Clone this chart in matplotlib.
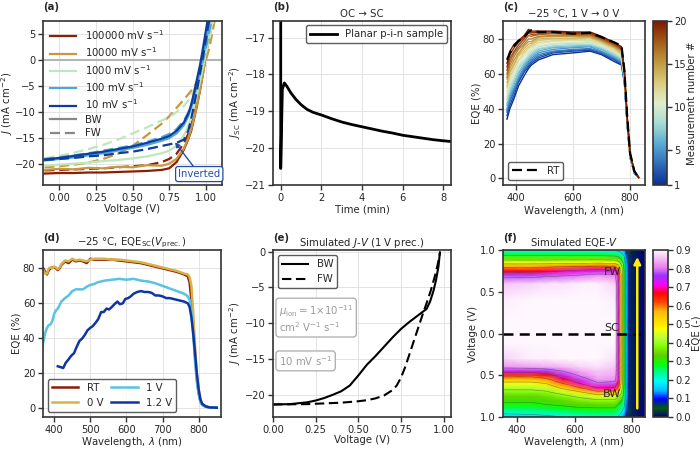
import numpy as np
import matplotlib
matplotlib.use('Agg')
import matplotlib.pyplot as plt
from matplotlib.colors import LinearSegmentedColormap, Normalize
from matplotlib.cm import ScalarMappable

plt.rcParams.update({
    'font.family': ['DejaVu Sans'],
    'font.size': 7.3,
    'axes.linewidth': 1.2,
    'axes.edgecolor': '#333333',
    'axes.labelcolor': '#262626',
    'axes.labelsize': 7.3,
    'text.color': '#262626',
    'xtick.color': '#333333', 'ytick.color': '#333333',
    'xtick.labelcolor': '#262626', 'ytick.labelcolor': '#262626',
    'xtick.labelsize': 7.1, 'ytick.labelsize': 7.1,
    'xtick.major.size': 3.5, 'ytick.major.size': 3.5,
    'xtick.major.width': 1.0, 'ytick.major.width': 1.0,
    'xtick.major.pad': 2.0, 'ytick.major.pad': 2.0,
    'axes.labelpad': 1.0,
    'legend.fontsize': 7.3,
    'axes.titlesize': 7.3,
    'axes.titlepad': 3.0,
})

# ---------------- data: panel (a) ----------------
V_a = [-0.1, 0.0, 0.1, 0.2, 0.3, 0.4, 0.5, 0.6, 0.7, 0.75, 0.8, 0.85, 0.88, 0.9,
       0.92, 0.94, 0.96, 0.98, 1.0, 1.02, 1.04, 1.06, 1.08, 1.1]
scan_labels = ['100000 mV s$^{-1}$', '10000 mV s$^{-1}$', '1000 mV s$^{-1}$',
               '100 mV s$^{-1}$', '10 mV s$^{-1}$']
scan_colors = ['#8c1d06', '#c9983c', '#bde7bd', '#4ea7d8', '#0d3c9b']
J_bw_100000 = [-21.8, -21.7, -21.7, -21.6, -21.6, -21.5, -21.4, -21.3, -21.1, -20.8, -19.6, -17.2,
               -15.2, -13.6, -11.2, -8.7, -5.8, -2.6, 1.0, 5.0, 9.0, 13, 17, 21]
J_fw_100000 = [-21.2, -21.1, -21.0, -20.9, -20.8, -20.6, -20.4, -20.2, -19.6, -19.0, -18.0, -16.0,
               -14.2, -12.6, -10.5, -8.0, -5.3, -2.3, 1.0, 4.8, 8.8, 13, 17, 21]
J_bw_10000 = [-21.1, -20.9, -21.0, -20.7, -20.8, -20.5, -20.6, -20.2, -20.3, -19.9, -19.0, -17.0,
              -15.0, -13.3, -11.0, -8.5, -5.7, -2.8, 0.6, 4.2, 8.0, 12, 16, 20]
J_fw_10000 = [-20.6, -20.4, -20.1, -19.7, -19.0, -18.0, -16.5, -14.4, -12.2, -10.8, -9.2, -7.6,
              -6.6, -5.9, -5.1, -4.2, -3.1, -1.8, -0.2, 2.0, 4.6, 7.6, 11, 14]
J_bw_1000 = [-20.3, -20.1, -19.9, -19.7, -19.4, -19.2, -18.9, -18.5, -17.9, -17.4, -16.5, -14.5,
             -12.6, -11.0, -8.9, -6.6, -4.1, -1.4, 1.6, 4.8, 8.2, 12, 15, 19]
J_fw_1000 = [-18.9, -18.4, -17.8, -17.1, -16.3, -15.3, -14.1, -12.9, -11.6, -11.0, -10.0, -8.8,
             -7.8, -6.9, -5.7, -4.3, -2.6, -0.7, 1.4, 3.6, 6.0, 8.6, 11, 14]
J_bw_100 = [-19.3, -19.0, -18.7, -18.3, -17.9, -17.4, -16.9, -16.3, -15.5, -15.0, -14.1, -12.5,
            -10.8, -9.2, -7.1, -4.7, -2.2, 0.4, 3.3, 6.4, 9.6, 13, 16, 20]
J_fw_100 = [-19.0, -18.7, -18.3, -17.9, -17.4, -16.9, -16.4, -15.7, -14.8, -14.2, -13.3, -11.6,
            -10.1, -8.6, -6.8, -4.8, -2.6, -0.2, 2.3, 5.0, 7.9, 11, 14, 17]
J_bw_10 = [-19.1, -18.8, -18.4, -18.0, -17.6, -17.1, -16.6, -15.9, -15.1, -14.6, -13.6, -12.0,
           -10.3, -8.6, -6.2, -3.6, -1.0, 2.2, 5.6, 9.0, 12, 15, 18, 21]
J_fw_10 = [-19.2, -19.0, -18.8, -18.5, -18.3, -17.9, -17.6, -17.1, -16.5, -16.2, -15.9, -15.3,
           -13.6, -11.3, -8.6, -5.7, -2.6, 0.6, 3.9, 7.3, 10.7, 14, 17, 20]
J_bw_all = [J_bw_100000, J_bw_10000, J_bw_1000, J_bw_100, J_bw_10]
J_fw_all = [J_fw_100000, J_fw_10000, J_fw_1000, J_fw_100, J_fw_10]

# ---------------- data: panel (b) ----------------
t_b = [0.0, 0.0, 0.08, 0.18, 0.3, 0.5, 0.75, 1.0, 1.3, 1.6, 2.0, 2.5, 3.0, 3.5, 4.0, 4.5,
       5.0, 5.5, 6.0, 6.5, 7.0, 7.5, 8.0, 8.4]
J_b = [-16.0, -20.55, -18.4, -18.23, -18.32, -18.5, -18.68, -18.82, -18.95, -19.03, -19.1,
       -19.2, -19.29, -19.36, -19.42, -19.48, -19.54, -19.59, -19.65, -19.69, -19.73, -19.77,
       -19.8, -19.82]

# ---------------- data: panel (c) ----------------
wl_c = [370, 380, 395, 410, 430, 445, 455, 480, 530, 600, 660, 700, 745, 770, 780, 790, 800, 815, 830]
eqe_c = [
    [34, 40, 46, 53, 59, 63, 65, 68, 71, 72, 73, 71, 67, 65, 55, 30, 12, 3, 0.5],
    [36, 42, 48, 55, 61, 64, 66, 69, 72, 73, 73.5, 71.5, 68, 65.5, 55, 30, 12, 3, 0.5],
    [38, 44, 50, 56, 62, 65, 67, 70, 72.5, 73.5, 74, 72, 68.5, 66, 56, 31, 12, 3, 0.5],
    [39, 45, 51, 57, 63, 66, 68, 71, 73, 74, 74.5, 72.5, 69, 66.5, 56, 31, 12, 3, 0.5],
    [40, 47, 52, 58, 64, 67, 69, 72, 74, 75, 75.5, 73, 69.5, 67, 57, 31, 12.5, 3, 0.5],
    [42, 48, 54, 60, 65, 68, 70, 73, 75, 75.5, 76, 74, 70, 67.5, 57, 31, 12.5, 3, 0.5],
    [43, 50, 55, 61, 66, 69, 71, 74, 75.5, 76, 76.5, 74.5, 71, 68, 57.5, 32, 12.5, 3.5, 0.5],
    [45, 51, 57, 63, 67, 70, 72, 74.5, 76, 77, 77, 75, 71.5, 69, 58, 32, 12.5, 3.5, 0.5],
    [47, 53, 58, 64, 68, 71, 72.5, 75.5, 77, 77.5, 78, 76, 72, 69.5, 58, 32, 13, 3.5, 0.5],
    [49, 55, 60, 65, 70, 72, 73.5, 76, 77.5, 78, 78.5, 76.5, 72.5, 70, 58.5, 32, 13, 3.5, 0.5],
    [50, 56, 62, 67, 71, 73, 74.5, 77, 78.5, 79, 79, 77, 73, 70.5, 59, 33, 13, 3.5, 0.5],
    [52, 58, 63, 68, 72, 74.5, 75.5, 78, 79, 79.5, 79.5, 77.5, 73.5, 71, 59, 33, 13, 3.5, 0.5],
    [53, 60, 65, 70, 73, 75.5, 76.5, 79, 80, 80, 80.5, 78, 74.5, 71.5, 59.5, 33, 13, 3.5, 0.5],
    [55, 61, 66, 71, 74.5, 77, 77.5, 80, 80.5, 80.5, 81, 78.5, 75, 72, 60, 33, 13.5, 3.5, 0.5],
    [57, 63, 68, 72, 76, 78.5, 78.5, 81, 81.5, 81.5, 81.5, 79, 75.5, 73, 60, 34, 13.5, 4, 0.5],
    [58, 65, 70, 74, 77, 80, 80, 81.5, 82, 82, 82, 79.5, 76, 73.5, 60.5, 34, 13.5, 4, 0.5],
    [60, 67, 72, 75, 78.5, 82, 81.5, 82.5, 83, 82.5, 82.5, 80, 76.5, 74, 61, 34, 14, 4, 0.5],
    [62, 69, 73, 76.5, 80, 83.5, 82.5, 83, 83.5, 83, 83, 80.5, 77, 74.5, 61, 34.5, 14, 4, 0.5],
    [64, 71, 75, 78, 81, 84.5, 83.5, 84, 84, 83.5, 83.5, 81, 77.5, 75, 61.5, 35, 14, 4, 0.5],
    [66, 73, 77, 79, 82, 85.5, 84.5, 84.5, 84.5, 84, 84, 81.5, 78, 75.5, 62, 35, 14, 4, 0.5],
]
eqe_c_rt = [68, 72, 76, 79, 81, 84, 85, 84, 84, 83, 83.5, 81, 78, 76, 62, 35, 14.5, 4, 0.5]
meas_ticks = [1, 5, 10, 15, 20]

# ---------------- data: panel (d) ----------------
wl_d = [362, 366, 370, 375, 380, 385, 390, 395, 400, 405, 410, 415, 420, 430, 440, 450, 460, 470,
        480, 490, 500, 510, 520, 540, 560, 580, 600, 620, 640, 660, 680, 700, 720, 740, 760, 770,
        775, 780, 785, 790, 795, 800, 805, 810, 820, 830, 850]
eqe_d_rt = [75, 77, 80, 78, 76.5, 79, 80, 80.5, 80.5, 80, 79, 80, 82, 84, 83, 85, 84, 84.5, 84, 83,
            85.5, 85, 85, 85, 85, 84.5, 84, 83.5, 83, 82, 81, 80, 79, 78, 76.5, 75.5, 72, 62, 47,
            30, 17, 9, 4, 2, 1, 0.5, 0.3]
eqe_d_0v = [77, 79, 79, 77, 77, 80, 80.5, 80, 81, 80.5, 79.5, 80.5, 82.5, 84.5, 84, 85.5, 84.5, 85,
            84.5, 84, 85, 85.5, 85.5, 85.5, 85, 85, 84.5, 84, 83.5, 82.5, 81.5, 80.5, 79.5, 78.5,
            77, 76.5, 75, 70, 55, 36, 20, 11, 5, 2.5, 1, 0.5, 0.3]
eqe_d_1v = [30, 34, 38, 43, 46, 47.5, 48, 50, 54, 56, 57, 59, 61, 63, 64.5, 67, 68, 68, 68, 69.5,
            70.5, 71, 72, 73, 73.5, 74, 73.5, 74, 73, 72.5, 71.5, 70, 68.5, 67, 65.5, 64, 62, 55,
            42, 27, 15, 8, 3.5, 1.8, 0.8, 0.4, 0.3]
wl_d12 = [410, 418, 425, 432, 440, 447, 455, 462, 470, 478, 485, 492, 500, 507, 515, 522, 530, 537,
          545, 552, 560, 567, 575, 582, 590, 597, 605, 612, 620, 630, 640, 650, 660, 670, 680, 690,
          700, 710, 720, 730, 740, 750, 760, 770, 775, 780, 785, 790, 795, 800, 805, 810, 820, 830, 850]
eqe_d_12v = [24, 23.5, 23, 26, 28, 30, 31.5, 35, 38.5, 40, 42, 44.5, 46, 47, 49, 51, 55, 55, 57,
             56.5, 58, 59.5, 61, 59.5, 60, 62.5, 63, 64, 65.5, 66.5, 67, 66.5, 66.5, 66, 64.5,
             64.5, 64, 63, 63, 62.5, 62, 61.5, 61, 60, 58, 52, 43, 32, 20, 11, 5, 2.5, 1, 0.5, 0.3]

# ---------------- data: panel (e) ----------------
V_e_bw = [0, 0.1, 0.2, 0.25, 0.3, 0.35, 0.4, 0.45, 0.5, 0.55, 0.6, 0.65, 0.7, 0.75, 0.8, 0.85,
          0.9, 0.92, 0.94, 0.955, 0.97, 0.978]
J_e_bw = [-21.35, -21.3, -21.05, -20.8, -20.45, -20.0, -19.5, -18.7, -17.3, -15.8, -14.6, -13.3,
          -12.0, -10.8, -9.8, -8.9, -8.0, -7.0, -5.5, -4.0, -2.0, -0.1]
V_e_fw = [0, 0.2, 0.3, 0.4, 0.5, 0.55, 0.6, 0.65, 0.7, 0.725, 0.75, 0.775, 0.8, 0.825, 0.85,
          0.875, 0.9, 0.925, 0.95, 0.965, 0.978]
J_e_fw = [-21.35, -21.3, -21.2, -21.1, -20.9, -20.75, -20.5, -20.1, -19.35, -18.7, -17.6, -16.1,
          -14.3, -12.5, -10.7, -8.9, -7.2, -5.4, -3.3, -1.8, -0.2]

# ---------------- data: panel (f) ----------------
wl_f = [350, 450, 500, 560, 620, 680, 740, 752, 762, 772, 780, 788, 798, 845]
s_f = [-1.0, -0.95, -0.9, -0.85, -0.8, -0.75, -0.7, -0.65, -0.6, -0.55, -0.5, -0.45, -0.4, -0.3,
       -0.1, 0.1, 0.4, 0.6, 0.7, 0.75, 0.8, 0.85, 0.9, 0.95, 1.0]
eqe_f = [
    [.16, .17, .18, .20, .21, .22, .22, .19, .16, .13, .09, .06, .02, .0],
    [.21, .22, .23, .24, .25, .26, .26, .23, .20, .16, .10, .06, .02, .0],
    [.26, .26, .27, .28, .29, .29, .29, .26, .23, .19, .12, .07, .02, .0],
    [.29, .29, .30, .31, .33, .34, .34, .30, .27, .22, .13, .07, .02, .0],
    [.31, .31, .32, .34, .37, .39, .39, .35, .31, .24, .14, .08, .02, .0],
    [.34, .34, .35, .38, .42, .46, .46, .41, .37, .26, .15, .08, .02, .0],
    [.38, .38, .39, .44, .50, .58, .57, .50, .42, .28, .16, .08, .02, .0],
    [.42, .42, .44, .52, .60, .70, .69, .60, .46, .29, .16, .08, .02, .0],
    [.47, .47, .50, .60, .70, .79, .78, .67, .49, .30, .16, .08, .02, .0],
    [.55, .55, .58, .68, .77, .83, .82, .72, .50, .30, .16, .08, .02, .0],
    [.63, .63, .66, .75, .81, .85, .84, .72, .50, .30, .16, .08, .02, .0],
    [.74, .74, .76, .80, .84, .86, .85, .72, .50, .30, .16, .08, .02, .0],
    [.82, .83, .84, .85, .87, .88, .86, .72, .50, .30, .16, .08, .02, .0],
    [.87, .89, .89, .90, .91, .91, .88, .72, .50, .30, .16, .08, .02, .0],
    [.90, .92, .93, .93, .93, .93, .90, .72, .50, .30, .16, .08, .02, .0],
    [.90, .92, .93, .93, .93, .93, .90, .72, .50, .30, .16, .08, .02, .0],
    [.89, .91, .92, .92, .92, .92, .89, .72, .50, .30, .16, .08, .02, .0],
    [.86, .87, .88, .88, .89, .89, .87, .72, .50, .30, .16, .08, .02, .0],
    [.77, .77, .78, .79, .80, .82, .81, .70, .50, .30, .16, .08, .02, .0],
    [.67, .67, .68, .70, .72, .74, .73, .64, .48, .30, .16, .08, .02, .0],
    [.58, .58, .59, .60, .61, .62, .61, .55, .44, .28, .15, .08, .02, .0],
    [.46, .46, .46, .47, .47, .48, .47, .43, .37, .25, .14, .07, .02, .0],
    [.36, .36, .36, .36, .36, .36, .35, .33, .29, .22, .13, .07, .02, .0],
    [.27, .27, .27, .27, .27, .27, .26, .25, .22, .18, .11, .06, .02, .0],
    [.20, .20, .20, .20, .20, .20, .19, .18, .16, .14, .09, .05, .02, .0],
]
eqe_levels = [0.1, 0.2, 0.3, 0.4, 0.5, 0.6, 0.7, 0.8]
eqe_ticks = [0.0, 0.1, 0.2, 0.3, 0.4, 0.5, 0.6, 0.7, 0.8, 0.9]
v_ticks_f = [-1.0, -0.5, 0.0, 0.5, 1.0]
v_labels_f = ['1.0', '0.5', '0.0', '0.5', '1.0']

# ---------------- figure ----------------
W, H = 700, 450
fig = plt.figure(figsize=(7, 4.5), dpi=100)


def px_axes(l, t, r, b):
    return fig.add_axes([l / W, 1 - b / H, (r - l) / W, (b - t) / H])


def style(ax):
    ax.grid(True, color='#e3e3e3', lw=0.7)
    ax.set_axisbelow(True)


def plabel(x, y, s):
    fig.text(x / W, 1 - y / H, s, fontweight='bold', ha='left', va='center')


roma_r = LinearSegmentedColormap.from_list('roma_r', [
    '#0a2f96', '#2f6cba', '#5aaad3', '#a6dbd6', '#e0eecb', '#d9cc7c', '#c1973f', '#a25a17', '#7e1a02'])

dash = (0, (4.5, 2.2))

# (a)
ax = px_axes(43, 21, 222, 185)
style(ax)
ax.axhline(0, color='#b5b5b5', lw=1.5, zorder=1)
for lab, col, jb, jf in zip(scan_labels, scan_colors, J_bw_all, J_fw_all):
    ax.plot(V_a, jb, color=col, lw=1.6, label=lab)
    ax.plot(V_a, jf, color=col, lw=1.6, ls=dash)
ax.plot([], [], color='#888888', lw=1.6, label='BW')
ax.plot([], [], color='#888888', lw=1.6, ls=dash, label='FW')
ax.set_xlim(-0.11, 1.11)
ax.set_ylim(-24, 7.5)
ax.set_xticks([0.0, 0.25, 0.5, 0.75, 1.0])
ax.set_xticklabels(['0.00', '0.25', '0.50', '0.75', '1.00'])
ax.set_yticks([5, 0, -5, -10, -15, -20])
ax.set_xlabel('Voltage (V)')
ax.set_ylabel('$J$ (mA cm$^{-2}$)')
ax.yaxis.set_label_coords(-0.155, 0.5)
ax.legend(loc='upper left', frameon=False, handlelength=2.6, labelspacing=0.35,
          borderaxespad=0.3, handletextpad=0.8)
ax.annotate('Inverted', xy=(0.79, -15.8), xytext=(0.955, -21.9), color='#1f4fa8',
            ha='center', va='center',
            bbox=dict(boxstyle='round,pad=0.25', fc='white', ec='#1f4fa8', lw=0.9),
            arrowprops=dict(arrowstyle='-|>', color='#1f4fa8', lw=1.0, mutation_scale=7,
                            shrinkA=0, shrinkB=0))
plabel(43, 7, '(a)')

# (b)
ax = px_axes(273, 21, 451, 185)
style(ax)
ax.plot(t_b, J_b, color='black', lw=2.0, label='Planar p-i-n sample')
ax.set_xlim(-0.38, 8.38)
ax.set_ylim(-21, -16.55)
ax.set_xticks([0, 2, 4, 6, 8])
ax.set_yticks([-21, -20, -19, -18, -17])
ax.set_xlabel('Time (min)')
ax.set_ylabel('$J_{\\mathrm{SC}}$ (mA cm$^{-2}$)')
ax.set_title('OC → SC')
leg = ax.legend(loc='upper right', frameon=True, handlelength=2.6, borderaxespad=0.4)
leg.get_frame().set_edgecolor('#333333')
plabel(273, 7, '(b)')

# (c)
ax = px_axes(503, 21, 645, 185)
style(ax)
norm_c = Normalize(1, 20)
for i, row in enumerate(eqe_c):
    ax.plot(wl_c, row, color=roma_r(norm_c(i + 1)), lw=1.0)
ax.plot(wl_c, eqe_c_rt, color='black', lw=1.6, ls=dash, label='RT')
ax.set_xlim(356, 852)
ax.set_ylim(-3.8, 90.3)
ax.set_xticks([400, 600, 800])
ax.set_yticks([0, 20, 40, 60, 80])
ax.set_xlabel('Wavelength, $\\lambda$ (nm)')
ax.set_ylabel('EQE (%)')
ax.set_title('−25 °C, 1 V → 0 V')
leg = ax.legend(loc='lower left', frameon=True, handlelength=2.6)
leg.get_frame().set_edgecolor('#333333')
cax = px_axes(653, 21, 667, 185)
cb = fig.colorbar(ScalarMappable(norm=norm_c, cmap=roma_r), cax=cax)
cb.set_ticks(meas_ticks)
cb.ax.tick_params(pad=1.5)
cb.set_label('Measurement number #', labelpad=0.5)
cb.outline.set_edgecolor('#333333')
plabel(503, 7, '(c)')

# (d)
ax = px_axes(43, 250, 221, 417)
style(ax)
ax.plot(wl_d, eqe_d_rt, color='#8c1d06', lw=1.8, label='RT')
ax.plot(wl_d, eqe_d_0v, color='#d6b24a', lw=1.8, label='0 V')
ax.plot(wl_d, eqe_d_1v, color='#58c3e2', lw=1.8, label='1 V')
ax.plot(wl_d12, eqe_d_12v, color='#1035a3', lw=1.8, label='1.2 V')
ax.set_xlim(369, 862)
ax.set_ylim(-5, 90.5)
ax.set_xticks([400, 500, 600, 700, 800])
ax.set_yticks([0, 20, 40, 60, 80])
ax.set_xlabel('Wavelength, $\\lambda$ (nm)', labelpad=0.5)
ax.set_ylabel('EQE (%)')
ax.set_title('−25 °C, EQE$_{\\mathrm{SC}}$($V_{\\mathrm{prec.}}$)')
leg = ax.legend(loc='lower left', ncol=2, frameon=True, handlelength=2.6, columnspacing=0.8)
leg.get_frame().set_edgecolor('#333333')
plabel(43, 238, '(d)')

# (e)
ax = px_axes(273, 250, 451, 417)
style(ax)
ax.plot(V_e_bw, J_e_bw, color='black', lw=1.5, label='BW')
ax.plot(V_e_fw, J_e_fw, color='black', lw=1.5, ls=dash, label='FW')
ax.set_xlim(0, 1.043)
ax.set_ylim(-23.1, 0.23)
ax.set_xticks([0.0, 0.25, 0.5, 0.75, 1.0])
ax.set_xticklabels(['0.00', '0.25', '0.50', '0.75', '1.00'])
ax.set_yticks([0, -5, -10, -15, -20])
ax.set_xlabel('Voltage (V)', labelpad=0.5)
ax.set_ylabel('$J$ (mA cm$^{-2}$)')
ax.set_title('Simulated $J$-$V$ (1 V prec.)')
leg = ax.legend(loc='upper left', frameon=True, handlelength=2.6)
leg.get_frame().set_edgecolor('#333333')
ax.text(0.035, -7.2, '$\\mu_{\\mathrm{ion}} = 1{\\times}10^{-11}$\ncm$^{2}$ V$^{-1}$ s$^{-1}$',
        color='#9a9a9a', ha='left', va='top', linespacing=1.1,
        bbox=dict(boxstyle='round,pad=0.3', fc='white', ec='#aaaaaa', lw=0.9))
ax.text(0.035, -14.3, '10 mV s$^{-1}$', color='#9a9a9a', ha='left', va='top',
        bbox=dict(boxstyle='round,pad=0.3', fc='white', ec='#aaaaaa', lw=0.9))
plabel(273, 238, '(e)')

# (f)
ax = px_axes(503, 250, 645, 417)
norm_f = Normalize(0, 0.9)
ax.pcolormesh(wl_f, s_f, np.array(eqe_f), shading='gouraud', cmap='gist_ncar', norm=norm_f)
ax.contour(wl_f, s_f, np.array(eqe_f), levels=eqe_levels, colors='#333333', linewidths=0.45,
           alpha=0.5)
ax.hlines(0, 350, 828, colors='black', lw=1.8, linestyles=(0, (4, 2.5)))
ax.annotate('', xy=(818, 0.95), xytext=(818, -0.93),
            arrowprops=dict(arrowstyle='-|>', color='#ffee00', lw=1.8, mutation_scale=10))
ax.text(731, 0.74, 'FW', ha='center', va='center', fontsize=8)
ax.text(728, 0.07, 'SC', ha='center', va='center', fontsize=8)
ax.text(731, -0.73, 'BW', ha='center', va='center', fontsize=8)
ax.set_xlim(350, 845)
ax.set_ylim(-1.0, 1.0)
ax.set_xticks([400, 600, 800])
ax.set_yticks(v_ticks_f)
ax.set_yticklabels(v_labels_f)
ax.set_xlabel('Wavelength, $\\lambda$ (nm)', labelpad=0.5)
ax.set_ylabel('Voltage (V)')
ax.set_title('Simulated EQE-$V$')
cax = px_axes(653, 250, 668, 417)
cb = fig.colorbar(ScalarMappable(norm=norm_f, cmap='gist_ncar'), cax=cax)
cb.set_ticks(eqe_ticks)
cb.ax.tick_params(pad=1.5)
cb.set_label('EQE (-)', labelpad=0.5)
cb.outline.set_edgecolor('#333333')
plabel(503, 238, '(f)')

fig.savefig('out.png', dpi=100)
